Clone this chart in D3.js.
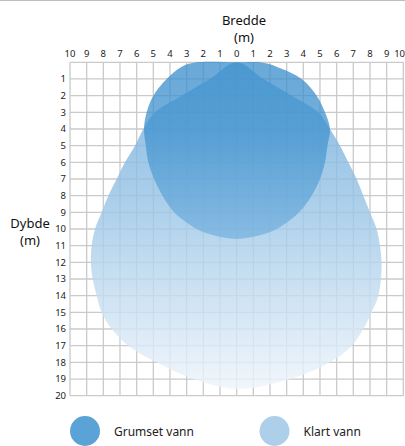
<!DOCTYPE html>
<html>
<head>
<meta charset="utf-8">
<script src="https://cdn.jsdelivr.net/npm/d3@7"></script>
<style>
  body { margin: 0; background: #fff; }
  svg { display: block; font-family: "Noto Sans", sans-serif; }
</style>
</head>
<body>
<svg id="chart" width="405" height="446"></svg>
<script>
// shape outlines: [width (m), depth (m)]
const murkyOutline = [
  [-2.4, 0], [0, 0], [1.4, 0], [2.4, 0.26], [3.9, 1], [4.8, 2], [5.3, 3], [5.6, 4],
  [5.45, 5], [5.3, 6], [5.0, 7], [4.5, 8], [3.75, 9], [3.15, 9.5], [2.4, 10], [1.5, 10.35],
  [0, 10.6], [-1.5, 10.35], [-2.4, 10], [-3.15, 9.5], [-3.75, 9], [-4.45, 8], [-4.95, 7],
  [-5.3, 6], [-5.45, 5], [-5.56, 4], [-5.4, 3], [-5.0, 2], [-4.2, 1], [-3.3, 0.26]
];
const clearOutline = [
  [0, 0], [1.6, 1], [3.3, 2], [4.9, 3], [5.6, 4], [6.2, 5], [6.7, 6], [7.2, 7],
  [7.6, 8], [8.0, 9], [8.4, 10], [8.6, 11], [8.7, 12], [8.66, 13], [8.5, 14],
  [8.1, 15], [7.6, 16], [6.9, 17], [5.6, 18], [3.2, 19], [0, 19.6], [-2.6, 19],
  [-4.8, 18], [-6.5, 17], [-7.5, 16], [-8.1, 15], [-8.4, 14], [-8.64, 13],
  [-8.75, 12], [-8.7, 11], [-8.5, 10], [-8.1, 9], [-7.7, 8], [-7.2, 7],
  [-6.7, 6], [-6.1, 5], [-5.6, 4], [-4.9, 3], [-3.3, 2], [-1.6, 1]
];
const widthTicks = d3.range(-10, 11);
const depthTicks = d3.range(1, 21);
const legendItems = ["Grumset vann", "Klart vann"];

const svg = d3.select("#chart");

const x = d3.scaleLinear().domain([-10, 10]).range([70, 403.3]);
const y = d3.scaleLinear().domain([0, 20]).range([62.3, 395.7]);

// top border
svg.append("line")
   .attr("x1", 0).attr("x2", 405)
   .attr("y1", 0.5).attr("y2", 0.5)
   .attr("stroke", "#bdbdbd")
   .attr("stroke-width", 1);

const defs = svg.append("defs");

function addGradient(id, stops, y1, y2) {
    const g = defs.append("linearGradient")
        .attr("id", id)
        .attr("gradientUnits", "userSpaceOnUse")
        .attr("x1", 0).attr("x2", 0)
        .attr("y1", y1).attr("y2", y2);
    stops.forEach(s => g.append("stop").attr("offset", s[0]).attr("stop-color", s[1]));
}

addGradient("clearFill", [[0, "#6aa9d9"], [0.45, "#9cc6e7"], [1, "#eef5fb"]], y(0), y(19.6));
addGradient("murkyFill", [[0, "#388dcb"], [0.4, "#4193cf"], [1, "#78b3df"]], y(0), y(10.6));
addGradient("murkyLegend", [[0, "#5ba2d6"], [1, "#b3d2ec"]], 416, 446);
addGradient("clearLegend", [[0, "#aecfea"], [1, "#eaf3fa"]], 416, 446);

// grid
const grid = svg.append("g").attr("class", "grid")
    .attr("stroke", "#cacaca")
    .attr("stroke-width", 1.3);

grid.selectAll(".vline")
    .data(widthTicks)
    .enter()
    .append("line")
    .attr("class", "vline")
    .attr("x1", d => x(d)).attr("x2", d => x(d))
    .attr("y1", y(0)).attr("y2", y(20));

grid.selectAll(".hline")
    .data([0].concat(depthTicks))
    .enter()
    .append("line")
    .attr("class", "hline")
    .attr("x1", x(-10)).attr("x2", x(10))
    .attr("y1", d => y(d)).attr("y2", d => y(d));

const outline = d3.line()
    .x(d => x(d[0]))
    .y(d => y(d[1]))
    .curve(d3.curveCatmullRomClosed.alpha(0.5));

svg.append("path")
   .datum(clearOutline)
   .attr("d", outline)
   .attr("fill", "url(#clearFill)")
   .attr("fill-opacity", 0.82);

svg.append("path")
   .datum(murkyOutline)
   .attr("d", outline)
   .attr("fill", "url(#murkyFill)")
   .attr("fill-opacity", 0.75);

// tick labels
svg.selectAll(".xlabel")
   .data(widthTicks)
   .enter()
   .append("text")
   .attr("class", "xlabel")
   .attr("x", d => d === 10 ? 405 : x(d))
   .attr("y", 57)
   .attr("text-anchor", d => d === 10 ? "end" : "middle")
   .style("font-size", "9.5px")
   .attr("fill", "#222")
   .text(d => Math.abs(d));

svg.selectAll(".ylabel")
   .data(depthTicks)
   .enter()
   .append("text")
   .attr("class", "ylabel")
   .attr("x", 66)
   .attr("y", d => y(d) + 3.3)
   .attr("text-anchor", "end")
   .style("font-size", "9.5px")
   .attr("fill", "#222")
   .text(d => d);

// axis titles
const titles = svg.append("g")
    .style("font-size", "13px")
    .attr("fill", "#111")
    .attr("text-anchor", "middle");

titles.append("text").attr("x", 244).attr("y", 25).text("Bredde");
titles.append("text").attr("x", 244).attr("y", 42).text("(m)");
titles.append("text").attr("x", 30).attr("y", 228).text("Dybde");
titles.append("text").attr("x", 30).attr("y", 245).text("(m)");

// legend
const legend = svg.selectAll(".legend")
    .data(legendItems)
    .enter()
    .append("g")
    .attr("class", "legend")
    .attr("transform", (d, i) => `translate(${i === 0 ? 85 : 274.5}, 431)`);

legend.append("circle")
    .attr("r", 15)
    .attr("fill", (d, i) => i === 0 ? "url(#murkyLegend)" : "url(#clearLegend)");

legend.append("text")
    .attr("x", 29)
    .attr("y", 4.5)
    .style("font-size", "12px")
    .attr("fill", "#222")
    .text(d => d);
</script>
</body>
</html>
